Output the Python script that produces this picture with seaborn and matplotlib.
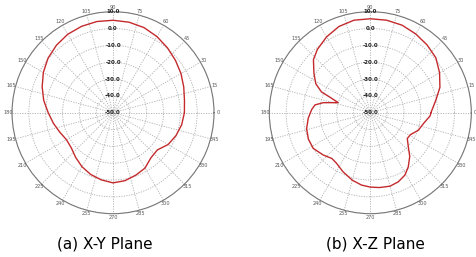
"""
Radiation patterns of the antenna in the X-Y and X-Z planes, drawn as two polar plots.
"""

# === Imports ===

import numpy as np
import pandas as pd
import seaborn as sns
from matplotlib import pyplot as plt


# === Data ===

# X-Y plane: angle in degrees, gain in dB
xy_angle = [0, 10, 20, 30, 40, 50, 60, 70, 80, 90, 100, 110, 120, 130, 140, 150, 160, 170,
            180, 190, 200, 210, 220, 230, 240, 250, 260, 270, 280, 290, 300, 310, 320, 330,
            340, 350, 360]
xy_gain = [-7.6, -6.9, -5.3, -3.4, -1.6, 0.3, 2.2, 3.8, 4.6, 4.9, 5.0, 4.6, 3.8, 2.3, 0.4,
           -2.2, -5.2, -8.2, -11.5, -14.0, -16.3, -18.0, -17.6, -15.4, -13.0, -11.0, -9.5,
           -8.3, -9.0, -10.5, -12.0, -15.0, -15.6, -12.2, -10.2, -8.6, -7.6]

# X-Z plane: angle in degrees, gain in dB
xz_angle = [0, 11, 20, 30, 40, 50, 60, 70, 80, 90, 100, 110, 120, 130, 137, 145, 152, 157,
            159, 162.6, 168, 172, 177, 185, 194, 203, 212, 222, 230, 236, 245, 255, 263,
            270, 277, 285, 292, 299, 305, 312, 318, 325, 331, 340, 349, 357, 360]
xz_gain = [-14.0, -10.3, -6.0, -2.5, 0.8, 2.5, 4.0, 5.3, 5.8, 5.8, 5.8, 4.5, 2.0, -1.0,
           -3.8, -9.1, -13.3, -18.5, -24.3, -30.0, -21.4, -16.8, -15.1, -13.0, -11.0,
           -10.0, -10.0, -12.4, -14.5, -13.9, -11.4, -8.5, -6.7, -5.8, -5.2, -4.8, -5.7,
           -7.6, -10.7, -15.0, -19.6, -23.2, -22.9, -19.6, -17.6, -14.4, -14.0]

r_ticks = [-50, -40, -30, -20, -10, 0, 10]
theta_ticks = list(range(0, 360, 15))
captions = ["(a) X-Y Plane", "(b) X-Z Plane"]


# === Functions ===

def draw_pattern(ax, angle, gain):
    data = pd.DataFrame({"theta": np.radians(angle), "gain": gain})
    sns.lineplot(data=data, x="theta", y="gain", sort=False, estimator=None,
                 color="#c42a2d", linewidth=1.0, ax=ax)
    ax.set_xlabel("")
    ax.set_ylabel("")
    ax.set_ylim(r_ticks[0], r_ticks[-1])
    ax.set_yticks(r_ticks)
    ax.set_yticklabels([])
    ax.set_xticks(np.radians(theta_ticks))
    ax.set_xticklabels([])
    ax.grid(True, color="#b0b0b0", linestyle=(0, (1.5, 1.5)), linewidth=0.6)
    ax.spines["polar"].set_color("#777777")
    ax.spines["polar"].set_linewidth(0.8)
    # angle labels just outside the rim
    for t in theta_ticks:
        ax.text(np.radians(t), 12.3, str(t), ha="center", va="center",
                fontsize=3.6, color="#555555", clip_on=False)
    # dB labels along the 90 degree spoke
    for r in r_ticks:
        ax.text(np.pi / 2, r, f"{r:.1f}", ha="center", va="center",
                fontsize=4.0, fontweight="bold", color="#222222")


def make_plot():
    sns.set_style("white")
    plt.rcParams["font.family"] = ["DejaVu Sans"]
    fig = plt.figure(figsize=(4.77, 2.57), dpi=100)
    ax1 = fig.add_axes([0.0252, 0.1685, 0.4235, 0.786], projection="polar")
    ax2 = fig.add_axes([0.5646, 0.1685, 0.4235, 0.786], projection="polar")
    draw_pattern(ax1, xy_angle, xy_gain)
    draw_pattern(ax2, xz_angle, xz_gain)
    fig.text(0.219, 0.05, captions[0], ha="center", va="center", fontsize=11,
             color="black")
    fig.text(0.788, 0.05, captions[1], ha="center", va="center", fontsize=11,
             color="black")
    fig.savefig("out.png", dpi=100)


# === Main ===

def main():
    make_plot()

main()
